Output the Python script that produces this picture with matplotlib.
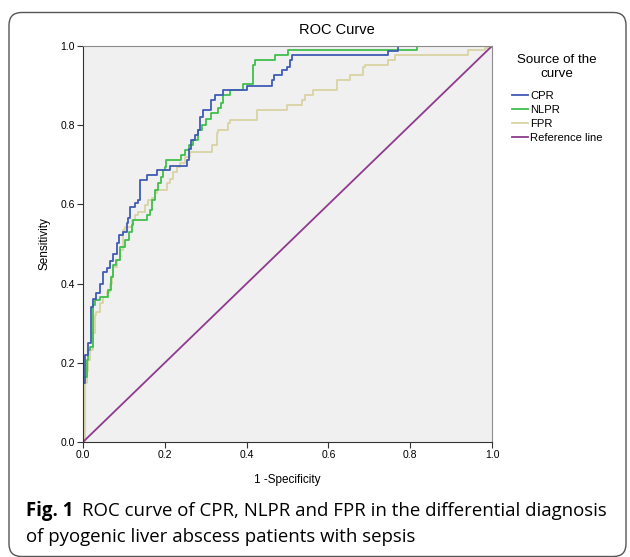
import matplotlib
matplotlib.use("Agg")
import matplotlib.pyplot as plt
from matplotlib.lines import Line2D
from matplotlib.patches import FancyBboxPatch

# ---------------- data ----------------
cpr_fpr = [0.0, 0.0, 0.005, 0.012, 0.02, 0.025, 0.033, 0.042, 0.05, 0.058, 0.066, 0.074,
           0.082, 0.089, 0.099, 0.107, 0.111, 0.115, 0.127, 0.135, 0.139, 0.156, 0.18,
           0.213, 0.254, 0.258, 0.265, 0.274, 0.282, 0.286, 0.294, 0.313, 0.323, 0.343,
           0.40, 0.461, 0.467, 0.486, 0.498, 0.506, 0.51, 0.746, 0.77, 1.0]
cpr_tpr = [0.0, 0.15, 0.22, 0.25, 0.34, 0.36, 0.376, 0.40, 0.43, 0.44, 0.458, 0.476,
           0.502, 0.523, 0.531, 0.552, 0.565, 0.594, 0.603, 0.611, 0.662, 0.674, 0.687,
           0.697, 0.712, 0.74, 0.763, 0.775, 0.788, 0.82, 0.838, 0.864, 0.876, 0.889,
           0.90, 0.914, 0.927, 0.939, 0.948, 0.965, 0.977, 0.988, 1.0, 1.0]

nlpr_fpr = [0.0, 0.0, 0.009, 0.013, 0.017, 0.025, 0.029, 0.042, 0.062, 0.068, 0.074, 0.080,
            0.09, 0.103, 0.113, 0.119, 0.123, 0.156, 0.164, 0.168, 0.176, 0.184, 0.19,
            0.196, 0.2, 0.204, 0.24, 0.249, 0.26, 0.269, 0.28, 0.29, 0.30, 0.314, 0.33,
            0.338, 0.342, 0.359, 0.392, 0.416, 0.42, 0.469, 0.502, 0.816, 1.0]
nlpr_tpr = [0.0, 0.165, 0.207, 0.232, 0.24, 0.346, 0.359, 0.367, 0.384, 0.417, 0.447, 0.46,
            0.493, 0.51, 0.53, 0.548, 0.561, 0.573, 0.586, 0.611, 0.636, 0.653, 0.67,
            0.687, 0.695, 0.712, 0.725, 0.737, 0.75, 0.763, 0.788, 0.80, 0.815, 0.83, 0.843,
            0.855, 0.876, 0.889, 0.905, 0.952, 0.965, 0.977, 0.99, 1.0, 1.0]

fpr_fpr = [0.0, 0.005, 0.009, 0.013, 0.017, 0.025, 0.029, 0.033, 0.041, 0.05, 0.058, 0.066,
           0.070, 0.074, 0.082, 0.09, 0.099, 0.103, 0.12, 0.127, 0.135, 0.152, 0.16, 0.168,
           0.176, 0.18, 0.205, 0.213, 0.221, 0.23, 0.238, 0.25, 0.261, 0.315, 0.327, 0.331,
           0.355, 0.359, 0.425, 0.498, 0.535, 0.543, 0.563, 0.62, 0.653, 0.685, 0.689,
           0.745, 0.763, 0.942, 0.983, 0.995, 1.0]
fpr_tpr = [0.0, 0.149, 0.18, 0.207, 0.232, 0.275, 0.32, 0.329, 0.35, 0.367, 0.38, 0.40,
           0.42, 0.443, 0.46, 0.485, 0.535, 0.544, 0.56, 0.573, 0.58, 0.598, 0.611, 0.615,
           0.628, 0.636, 0.653, 0.665, 0.683, 0.695, 0.704, 0.72, 0.733, 0.75, 0.78, 0.788,
           0.805, 0.813, 0.838, 0.851, 0.864, 0.876, 0.889, 0.914, 0.927, 0.948, 0.952,
           0.965, 0.977, 0.99, 0.995, 1.0, 1.0]

ref_x = [0.0, 1.0]
ref_y = [0.0, 1.0]

series_names = ["CPR", "NLPR", "FPR", "Reference line"]
tick_vals = [0.0, 0.2, 0.4, 0.6, 0.8, 1.0]
tick_labels = ["0.0", "0.2", "0.4", "0.6", "0.8", "1.0"]

# ---------------- figure ----------------
W, H = 630, 557
fig = plt.figure(figsize=(W / 100, H / 100), dpi=100)
fig.patch.set_facecolor("white")

# rounded outer frame
box = FancyBboxPatch((9 / W, 0.5 / H), 617 / W, 544 / H,
                     boxstyle="round,pad=0,rounding_size=0.02",
                     transform=fig.transFigure, fill=False,
                     edgecolor="#555555", linewidth=1.0, mutation_aspect=W / H)
fig.patches.append(box)

ax = fig.add_axes([83 / W, 1 - 442 / H, 409 / W, 396 / H])
ax.set_facecolor("#f0f0f0")

c_blue, c_green, c_tan, c_purple = "#3f5bb5", "#3fbf4a", "#d8d4a2", "#8e3a8e"
ax.plot(fpr_fpr, fpr_tpr, drawstyle="steps-post", color=c_tan, lw=1.3)
ax.plot(nlpr_fpr, nlpr_tpr, drawstyle="steps-post", color=c_green, lw=1.3)
ax.plot(cpr_fpr, cpr_tpr, drawstyle="steps-post", color=c_blue, lw=1.3)
ax.plot(ref_x, ref_y, color=c_purple, lw=1.3)

ax.set_xlim(0, 1)
ax.set_ylim(0, 1)
ax.set_xticks(tick_vals)
ax.set_xticklabels(tick_labels)
ax.set_yticks(tick_vals)
ax.set_yticklabels(tick_labels)

fam = ["Liberation Sans", "DejaVu Sans"]
ax.tick_params(axis="both", direction="out", length=4, width=0.8, color="#333333",
               labelsize=7.5, pad=2)
for lab in ax.get_xticklabels() + ax.get_yticklabels():
    lab.set_family(fam)
ax.spines["left"].set_color("#333333")
ax.spines["bottom"].set_color("#333333")
ax.spines["top"].set_color("#8c8c8c")
ax.spines["right"].set_color("#8c8c8c")

ax.set_xlabel("1 -Specificity", fontsize=8.5, family=fam, labelpad=10)
ax.set_ylabel("Sensitivity", fontsize=8.5, family=fam, labelpad=7)

fig.text(337 / W, 1 - 30 / H, "ROC Curve", ha="center", va="center",
         fontsize=10.5, family=fam)

# legend
handles = [Line2D([], [], color=c, lw=1.3) for c in (c_blue, c_green, c_tan, c_purple)]
leg = ax.legend(handles, series_names, title="Source of the\ncurve",
                loc="upper left", bbox_to_anchor=(512 / W, 1 - 54 / H),
                bbox_transform=fig.transFigure, frameon=False,
                prop={"family": fam, "size": 8.1}, title_fontproperties={"family": fam, "size": 9.6},
                handlelength=1.45, handletextpad=0.15, labelspacing=0.36, borderaxespad=0,
                borderpad=0)
leg.get_title().set_multialignment("center")
leg._legend_box.sep = 8

# caption
cap_fam = ["Open Sans", "DejaVu Sans"]
cap_size = 13.4
fig.canvas.draw()
t1 = fig.text(26 / W, 1 - 511 / H, "Fig. 1", ha="left", va="center",
              fontsize=cap_size, family=cap_fam, weight="bold")
fig.canvas.draw()
bb = t1.get_window_extent()
fig.text((bb.x1 + 9) / W, 1 - 511 / H,
         "ROC curve of CPR, NLPR and FPR in the differential diagnosis",
         ha="left", va="center", fontsize=cap_size, family=cap_fam)
fig.text(26 / W, 1 - 537 / H, "of pyogenic liver abscess patients with sepsis",
         ha="left", va="center", fontsize=cap_size, family=cap_fam)

fig.savefig("out.png", dpi=100)
